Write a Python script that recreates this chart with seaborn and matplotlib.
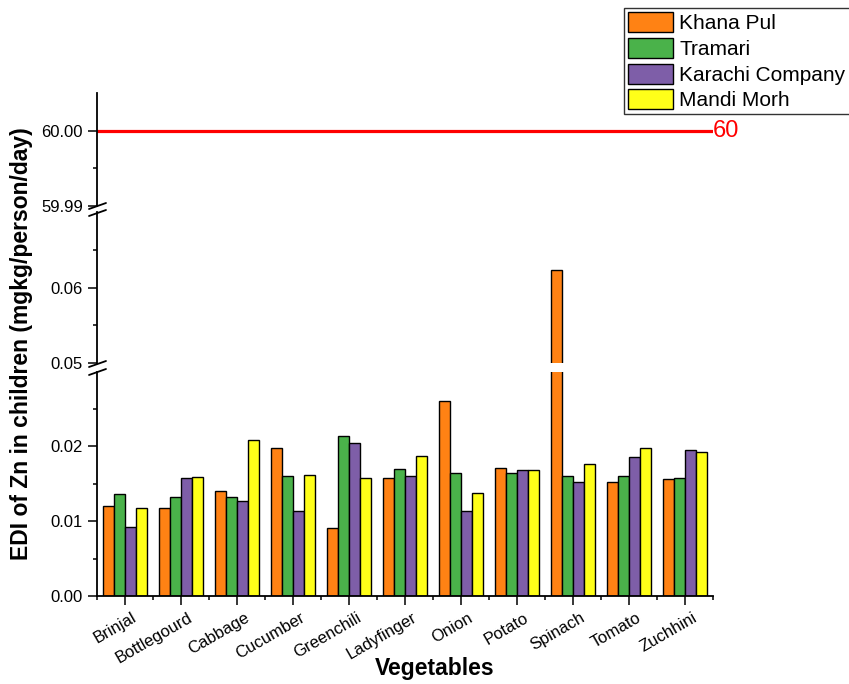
import matplotlib
matplotlib.use('Agg')
import matplotlib.pyplot as plt
import pandas as pd
import seaborn as sns
from matplotlib.lines import Line2D

# data
vegetables = ['Brinjal', 'Bottlegourd', 'Cabbage', 'Cucumber', 'Greenchili',
              'Ladyfinger', 'Onion', 'Potato', 'Spinach', 'Tomato', 'Zuchhini']
khana_pul = [0.0120, 0.0117, 0.0140, 0.0198, 0.0091, 0.0157, 0.0260, 0.0171, 0.0624, 0.0152, 0.0156]
tramari = [0.0136, 0.0132, 0.0132, 0.0160, 0.0214, 0.0169, 0.0164, 0.0164, 0.0160, 0.0160, 0.0157]
karachi_company = [0.0092, 0.0157, 0.0127, 0.0113, 0.0204, 0.0160, 0.0113, 0.0168, 0.0152, 0.0186, 0.0195]
mandi_morh = [0.0118, 0.0159, 0.0208, 0.0161, 0.0157, 0.0187, 0.0138, 0.0168, 0.0176, 0.0197, 0.0192]
sites = ['Khana Pul', 'Tramari', 'Karachi Company', 'Mandi Morh']
colors = ['#FF8214', '#4AB24A', '#7E5EA8', '#FFFF19']
limit_value = 60

df = pd.DataFrame({'Vegetable': vegetables, 'Khana Pul': khana_pul, 'Tramari': tramari,
                   'Karachi Company': karachi_company, 'Mandi Morh': mandi_morh})
df = df.melt(id_vars='Vegetable', var_name='Site', value_name='EDI')

sns.set_theme(style='ticks')
plt.rcParams['font.family'] = ['Liberation Sans', 'DejaVu Sans']
for key in ('text.color', 'axes.labelcolor', 'axes.edgecolor', 'xtick.color', 'ytick.color'):
    plt.rcParams[key] = 'black'

W, H = 849, 684
fig = plt.figure(figsize=(W / 100, H / 100), dpi=100)


def px_axes(left, top, right, bottom):
    return fig.add_axes([left / W, 1 - bottom / H, (right - left) / W, (bottom - top) / H])


ax_top = px_axes(97, 93, 713, 206)
ax_mid = px_axes(97, 212, 713, 363)
ax_low = px_axes(97, 372, 713, 596)

for ax in (ax_top, ax_mid, ax_low):
    sns.barplot(data=df, x='Vegetable', y='EDI', hue='Site', hue_order=sites,
                palette=colors, order=vegetables, ax=ax, edgecolor='black',
                linewidth=1.0, saturation=1, legend=(ax is ax_low))
    ax.set_xlim(-0.5, len(vegetables) - 0.5)
    sns.despine(ax=ax, top=True, right=True, bottom=(ax is not ax_low))
    ax.spines['left'].set_linewidth(1.3)
    ax.spines['bottom'].set_linewidth(1.3)
    ax.set_xlabel('')
    ax.set_ylabel('')
    ax.tick_params(axis='y', which='major', direction='out', length=6.5, width=1.1, labelsize=12)
    ax.tick_params(axis='y', which='minor', direction='out', length=3.2, width=1.1)
    if ax is not ax_low:
        ax.tick_params(axis='x', which='both', bottom=False, labelbottom=False)

ax_top.set_ylim(59.99, 60.005)
ax_top.set_yticks([59.99, 60.00])
ax_top.set_yticklabels(['59.99', '60.00'])
ax_top.set_yticks([59.995], minor=True)
ax_top.axhline(limit_value, color='#FF0000', linewidth=2.3)
ax_top.text(1.0, limit_value, '60', color='#FF0000', fontsize=17, ha='left', va='center',
            transform=ax_top.get_yaxis_transform())

ax_mid.set_ylim(0.05, 0.0701)
ax_mid.set_yticks([0.05, 0.06])
ax_mid.set_yticklabels(['0.05', '0.06'])
ax_mid.set_yticks([0.055, 0.065], minor=True)

ax_low.set_ylim(0, 0.0299)
ax_low.set_yticks([0.0, 0.01, 0.02])
ax_low.set_yticklabels(['0.00', '0.01', '0.02'])
ax_low.set_yticks([0.005, 0.015, 0.025], minor=True)
ax_low.set_xticks(range(len(vegetables)))
ax_low.set_xticks([i - 0.5 for i in range(len(vegetables) + 1)], minor=True)
ax_low.tick_params(axis='x', which='major', direction='out', length=6.5, width=1.1)
ax_low.tick_params(axis='x', which='minor', direction='out', length=3.2, width=1.1)
ax_low.set_xticklabels(vegetables, rotation=30, ha='right', rotation_mode='anchor', fontsize=12)
offset = matplotlib.transforms.ScaledTranslation(5 / 72, 0, fig.dpi_scale_trans)
for lab in ax_low.get_xticklabels():
    lab.set_transform(lab.get_transform() + offset)

# legend pulled from the lower axes
handles, labels = ax_low.get_legend_handles_labels()
ax_low.get_legend().remove()
leg = fig.legend(handles, labels, loc='upper left', bbox_to_anchor=(624 / W, 1 - 8 / H),
                 fontsize=15, frameon=True, fancybox=False, edgecolor='black',
                 handlelength=2.15, handleheight=1.1, handletextpad=0.3,
                 labelspacing=0.22, borderpad=0.2, borderaxespad=0)
leg.get_frame().set_linewidth(1.0)

# axis break marks
for y in (206, 213, 364, 372):
    fig.add_artist(Line2D([89 / W, 106 / W], [1 - (y + 3) / H, 1 - (y - 3) / H],
                          color='black', linewidth=1.3, transform=fig.transFigure))

fig.text(22 / W, 1 - 344 / H, 'EDI of Zn in children (mgkg/person/day)', rotation=90,
         fontsize=16.5, fontweight='bold', ha='center', va='center')
fig.text(435 / W, 1 - 668 / H, 'Vegetables', fontsize=16.5, fontweight='bold',
         ha='center', va='center')

fig.savefig('out.png', dpi=100)
